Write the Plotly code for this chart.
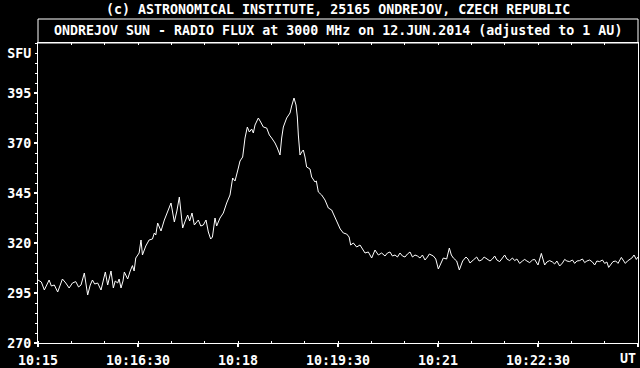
import plotly.graph_objects as go

# seconds after 10:15:00 UT
secs = [0, 3, 5.7, 8, 10, 12, 14.7, 17.7, 20, 22, 25, 28, 31, 34, 36.5, 38.7, 41.7, 44.7, 47, 49,
        51, 53.7, 56.7, 58.5, 60.6, 62.7, 64, 65.7, 67.8, 69.5, 71.7, 73, 74.7, 76.5, 77.7, 79.5,
        80.7, 83, 85, 86.5, 88, 91, 92.7, 94, 97, 100, 103, 104.7, 106, 107.7, 110.7, 113.7, 116.7,
        119.7, 122.7, 125, 127.2, 130.2, 132.5, 134.7, 136.5, 138.6, 140.7,
        144.3, 146.5, 148.8, 151.2, 153.3, 155.4, 157, 159.3, 160.8, 163.8, 166.8, 169.8, 172.8,
        175.2, 177.3, 180.3, 181.8, 184.2, 186.3, 188.4, 190.2, 192.3, 193.8, 195.3, 198.3, 200.4,
        202.8, 205.8, 208.2, 210.3, 213.3, 215.4, 217.8, 219.3, 220.8, 223.8, 226.8, 228.3, 230.4,
        232.2, 233.4, 234.3, 235.8, 237.3, 238.8, 240.3, 241.8, 244.8, 246.3, 249.3, 250.5, 252.3,
        255.3, 258.3, 261.3, 264.3, 267.3, 270.3, 272, 274.8, 277.8, 280,
        281.4, 283.8, 286.8, 289.8, 292.8, 294.3, 297.3, 300.3, 303.3, 306.3, 309.3, 312.3, 314.5,
        316.8, 319, 321.3, 323.5, 325.8, 328, 330.3, 332.5, 334.8, 337, 339.3, 341.5, 343.8, 346,
        348.3, 350.5, 352.2, 355.8, 358, 360.3, 362.5, 364.8, 367.8, 370.2, 372, 373.8, 376.8,
        379.2, 382.2, 385.2, 387, 388.8, 391.8, 394.8, 397, 399.3, 401.5, 403.8, 406.8,
        409, 411, 413, 415.5, 418, 420, 422, 424.5, 427, 429, 431, 433.5, 436, 438, 440, 442.5,
        445, 447, 450, 453, 456, 458, 460.5, 463, 465, 467, 469.5, 472, 474, 476, 478.5, 481, 483,
        485, 487.5, 490, 492, 494, 496.5, 499, 501, 503, 505.5, 508, 510, 512, 513.6, 516, 517.5,
        520, 522, 525, 527, 528.6, 530.5, 532.5, 534.5, 536.4, 538.5, 540]

flux = [301.5, 300.5, 296.5, 299, 301.5, 298.5, 299, 295.5, 299, 302, 300, 297.5, 300, 300.7, 298,
        299, 305, 294, 299, 301.5, 299.5, 300, 296.5, 301, 305.5, 299, 302, 306, 297.5, 301, 300,
        302, 297.5, 301, 305.5, 303, 302, 306, 308.7, 306, 312.5, 315, 321.5, 314, 318.5, 321.5,
        322, 325, 324, 330, 326, 331.5, 335.5, 340, 330.5, 336, 343, 327.5, 331, 334, 331, 335, 329,
        331.5, 328.5, 329, 331.5, 325.5, 322, 323, 332.5, 328.5, 332.5, 335, 340, 344, 352.5, 351,
        357.5, 361, 363, 372.5, 378, 375.5, 377, 375, 379, 382.5, 380.5, 378, 377.5, 374, 372.5,
        370, 367.5, 364, 372.5, 378, 382.5, 385, 388.5, 392.5, 389, 383, 374, 364, 365.5, 366.5,
        363, 358, 357, 353, 350.5, 351, 345.5, 344, 341.5, 337.5, 336.5, 333, 329, 327, 325, 324.5,
        323,
        319, 320, 318, 319, 316.5, 315, 315.5, 312.5, 316.5, 314, 315, 313.5, 315, 315.5, 313.5,
        314, 313, 315, 313.5, 313, 314.5, 315.5, 313, 314, 313.5, 312.5, 314, 311.5, 313, 314.5,
        313.5, 312, 307, 310, 312.5, 312, 317.5, 314, 312.5, 311, 306.5, 311, 313, 312, 310, 311.5,
        313, 311, 311.5, 313, 312, 311,
        312, 313.5, 311.5, 310.7, 312.5, 314, 312, 311.2, 312.5, 311.2, 312, 309.8, 311, 311.8,
        311, 310.2, 311.5, 311.8, 309, 314.8, 309, 310.5, 311.2, 310.5, 309.5, 311, 308.5, 310,
        311.8, 311, 310.7, 311.5, 309.8, 311, 311.2, 312, 310.2, 311, 311.5, 310.5, 309, 311,
        310.7, 311.5, 309.8, 310.5, 307.8, 310, 310.7, 311, 309.8, 312.8, 311, 309.8, 311, 311.8,
        312.5, 314, 311.8, 313]

x_tick_vals = [0, 90, 180, 270, 360, 450, 540]
x_tick_text = ["10:15", "10:16:30", "10:18", "10:19:30", "10:21", "10:22:30", ""]
x_unit_text = "UT"
y_tick_vals = [270, 295, 320, 345, 370, 395]
y_tick_text = ["270", "295", "320", "345", "370", "395"]
unit_val = [415]
unit_text = ["SFU"]

title_text = "ONDREJOV SUN - RADIO FLUX at 3000 MHz on 12.JUN.2014 (adjusted to 1 AU)"
credit_text = "(c) ASTRONOMICAL INSTITUTE, 25165 ONDREJOV, CZECH REPUBLIC"

FONT = dict(family="DejaVu Sans Mono", size=13.3, color="white", weight="bold")

fig = go.Figure()
fig.add_trace(go.Scatter(x=secs, y=flux, mode="lines",
                         line=dict(color="white", width=1), hoverinfo="skip",
                         showlegend=False))
# carrier for the secondary axes (top ticks and SFU label)
fig.add_trace(go.Scatter(x=[None], y=[None], xaxis="x2", yaxis="y2", mode="lines",
                         hoverinfo="skip", showlegend=False))

fig.update_layout(
    width=640, height=368,
    paper_bgcolor="black", plot_bgcolor="black",
    margin=dict(l=38, r=2, t=43, b=25),
    font=FONT,
    showlegend=False,
    xaxis=dict(range=[0, 540], tickmode="array", tickvals=x_tick_vals, ticktext=x_tick_text,
               showgrid=False, zeroline=False, showline=True, linecolor="white", linewidth=1,
               mirror=True, ticks="outside", ticklen=3, tickwidth=2, tickcolor="white",
               tickfont=FONT, ticklabelstandoff=2, automargin=False,
               minor=dict(tickmode="linear", tick0=0, dtick=30, ticks="inside",
                          ticklen=2, tickwidth=1, tickcolor="white", showgrid=False)),
    xaxis2=dict(range=[0, 540], overlaying="x", side="top", anchor="y2", automargin=False,
                tickmode="linear", tick0=0, dtick=30, ticks="inside", ticklen=2,
                tickwidth=1, tickcolor="white", showticklabels=False, showgrid=False,
                zeroline=False, showline=False),
    yaxis=dict(range=[270, 420], tickmode="array", tickvals=y_tick_vals, ticktext=y_tick_text,
               showgrid=False, zeroline=False, showline=True, linecolor="white", linewidth=1,
               mirror=True, ticks="outside", ticklen=3, tickwidth=2, tickcolor="white",
               tickfont=FONT, automargin=False,
               minor=dict(tickmode="linear", tick0=270, dtick=5, ticks="outside",
                          ticklen=2, tickwidth=1, tickcolor="white", showgrid=False)),
    yaxis2=dict(range=[270, 420], overlaying="y", side="left", anchor="x2", automargin=False,
                tickmode="array", tickvals=unit_val, ticktext=unit_text, ticks="outside",
                ticklen=3, tickwidth=1, tickcolor="rgba(0,0,0,0)", tickfont=FONT,
                showgrid=False, zeroline=False, showline=False),
    shapes=[dict(type="rect", xref="paper", yref="paper", x0=0, x1=1, y0=1, y1=1.08,
                 line=dict(color="white", width=1), fillcolor="rgba(0,0,0,0)")],
    annotations=[
        dict(text=title_text, xref="paper", yref="paper", x=0.5, y=1.04,
             xanchor="center", yanchor="middle", showarrow=False, font=FONT),
        dict(text=credit_text, xref="paper", yref="paper", x=0.5, y=1.1133,
             xanchor="center", yanchor="middle", showarrow=False, font=FONT),
        dict(text=x_unit_text, xref="x", yref="paper", x=x_tick_vals[-1], y=-0.0533,
             xanchor="right", yanchor="middle", showarrow=False, font=FONT),
    ],
)

fig.write_html("out.html")
